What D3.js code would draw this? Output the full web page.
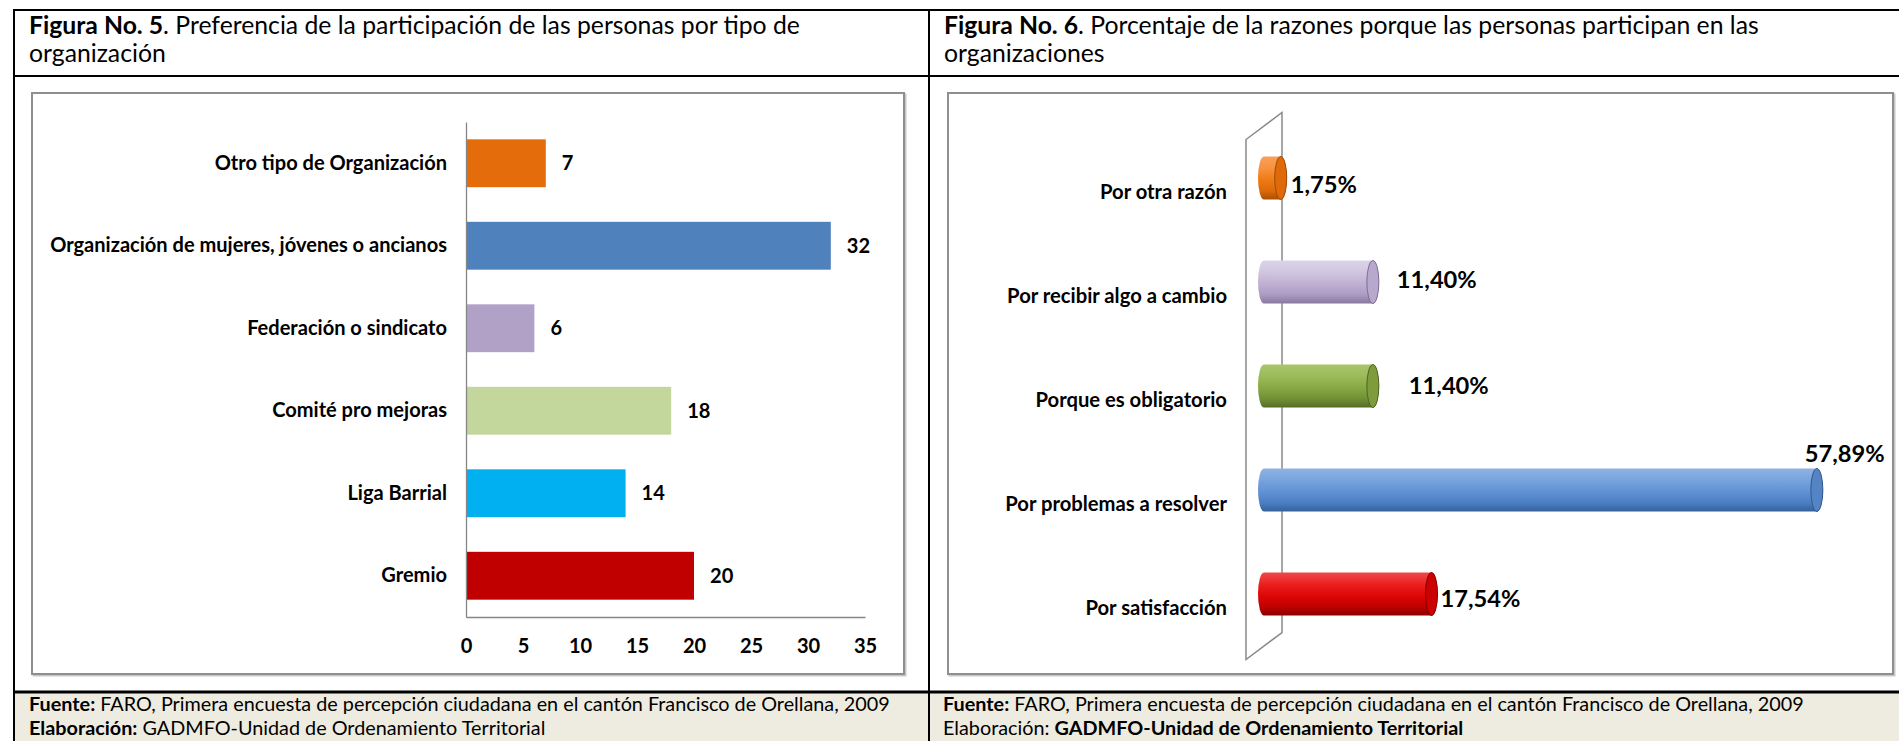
<!DOCTYPE html>
<html><head><meta charset="utf-8">
<script src="https://cdn.jsdelivr.net/npm/d3@7"></script>
<style>
body{margin:0;background:#fff;}
svg{display:block;}
</style>
</head><body>
<svg id="c" width="1899" height="741"></svg>
<script>
// ---------- DATA ----------
const categories5 = ["Otro tipo de Organización", "Organización de mujeres, jóvenes o ancianos", "Federación o sindicato", "Comité pro mejoras", "Liga Barrial", "Gremio"];
const values5 = [7, 32, 6, 18, 14, 20];
const colors5 = ["#E46C0A", "#4F81BD", "#B2A1C7", "#C3D69B", "#00B0F0", "#C00000"];
const ticks5 = [0, 5, 10, 15, 20, 25, 30, 35];

const categories6 = ["Por otra razón", "Por recibir algo a cambio", "Porque es obligatorio", "Por problemas a resolver", "Por satisfacción"];
const values6 = [1.75, 11.40, 11.40, 57.89, 17.54];
const labels6 = ["1,75%", "11,40%", "11,40%", "57,89%", "17,54%"];
const colors6 = ["orange", "purple", "green", "blue", "red"];

const title5 = [["Figura No. 5", 700], [". Preferencia de la participación de las personas por tipo de", 400]];
const title5b = "organización";
const title6 = [["Figura No. 6", 700], [". Porcentaje de la razones porque las personas participan en las", 400]];
const title6b = "organizaciones";
const fuente = [["Fuente:", 700], [" FARO, Primera encuesta de percepción ciudadana en el cantón Francisco de Orellana, 2009", 400]];
const elab5 = [["Elaboración:", 700], [" GADMFO-Unidad de Ordenamiento Territorial", 400]];
const elab6 = [["Elaboración: ", 400], ["GADMFO-Unidad de Ordenamiento Territorial", 700]];

// ---------- HELPERS ----------
const svg = d3.select("#c");
const defs = svg.append("defs");
const SANS = "Lato, 'Open Sans', sans-serif";
const CHART = "Lato, 'Open Sans', sans-serif";

function multiText(g, parts, x, y, size, family) {
  const t = g.append("text").attr("x", x).attr("y", y).attr("font-size", size).attr("font-family", family).attr("fill", "#000");
  parts.forEach(p => t.append("tspan").attr("font-weight", p[1]).text(p[0]));
  return t;
}
function fitSize(parts, family, target) {
  const t = multiText(svg, parts, 0, -100, 20, family);
  const w = t.node().getComputedTextLength();
  t.remove();
  return 20 * target / w;
}

// ---------- TABLE ----------
svg.append("rect").attr("x", 14).attr("y", 692).attr("width", 1885).attr("height", 49).attr("fill", "#EEECE1");
const lines = [
  [13, 10, 1899, 10, 2], [14, 9, 14, 741, 2], [14, 76, 1899, 76, 2],
  [929, 10, 929, 741, 2], [14, 692, 1899, 692, 3]
];
svg.selectAll("line.tbl").data(lines).join("line").attr("class", "tbl")
  .attr("x1", d => d[0]).attr("y1", d => d[1]).attr("x2", d => d[2]).attr("y2", d => d[3])
  .attr("stroke", "#000").attr("stroke-width", d => d[4]);

// chart boxes
[[32, 93, 872, 581], [948, 93, 945, 581]].forEach(b => {
  svg.append("rect").attr("x", b[0] + 1.5).attr("y", b[1] + 1.5).attr("width", b[2]).attr("height", b[3])
    .attr("fill", "none").attr("stroke", "#c8c8c8").attr("stroke-width", 2);
  svg.append("rect").attr("x", b[0]).attr("y", b[1]).attr("width", b[2]).attr("height", b[3])
    .attr("fill", "#fff").attr("stroke", "#8f8f8f").attr("stroke-width", 2);
});

// titles
const tSize = fitSize(title6, SANS, 815);
multiText(svg, title5, 29, 34, tSize, SANS);
multiText(svg, [[title5b, 400]], 29, 62, tSize, SANS);
multiText(svg, title6, 944, 34, tSize, SANS);
multiText(svg, [[title6b, 400]], 944, 62, tSize, SANS);

// footers
const fSize = fitSize(fuente, SANS, 861);
multiText(svg, fuente, 29, 711, fSize, SANS);
multiText(svg, elab5, 29, 735, fSize, SANS);
multiText(svg, fuente, 943, 711, fSize, SANS);
multiText(svg, elab6, 943, 735, fSize, SANS);

// ---------- CHART 5 (flat horizontal bars) ----------
const lblSize5 = fitSize([[categories5[1], 700]], CHART, 397);
const x5 = d3.scaleLinear().domain([0, 35]).range([466, 865]);
const y5 = d3.scaleBand().domain(categories5).range([122, 617]).paddingInner(0.42).paddingOuter(0.21);
const g5 = svg.append("g");

g5.selectAll("rect.bar").data(categories5).join("rect").attr("class", "bar")
  .attr("x", x5(0)).attr("y", d => y5(d))
  .attr("width", (d, i) => x5(values5[i]) - x5(0)).attr("height", y5.bandwidth())
  .attr("fill", (d, i) => colors5[i]);

const ax5 = g5.append("g").attr("transform", `translate(0,617)`)
  .call(d3.axisBottom(x5).tickValues(ticks5).tickSize(0).tickSizeOuter(0).tickPadding(22));
const ay5 = g5.append("g").attr("transform", `translate(466,0)`)
  .call(d3.axisLeft(y5).tickSize(0).tickSizeOuter(0).tickPadding(19));
[ax5, ay5].forEach(a => {
  a.select(".domain").attr("stroke", "#868686").attr("stroke-width", 1.3);
  a.selectAll("text").attr("font-family", CHART).attr("font-weight", 700).attr("font-size", lblSize5).attr("fill", "#000");
});

g5.selectAll("text.val").data(categories5).join("text").attr("class", "val")
  .attr("x", (d, i) => x5(values5[i]) + 16).attr("y", d => y5(d) + y5.bandwidth() / 2).attr("dy", "0.35em")
  .attr("font-family", CHART).attr("font-weight", 700).attr("font-size", lblSize5)
  .text((d, i) => values5[i]);

// ---------- CHART 6 (3D cylinders) ----------
const palette6 = {
  orange: {stops: ["#F9A05A", "#F7913C", "#EE7A14", "#DC6A08", "#A94F04"], cap: "#E06A0A", rim: "#9C4A05"},
  purple: {stops: ["#DCD3E8", "#D0C5E0", "#BFB0D3", "#AC9AC3", "#8A779F"], cap: "#B8A8CC", rim: "#7E6C94"},
  green:  {stops: ["#A9C56E", "#9BBB59", "#86A843", "#728F35", "#566C26"], cap: "#7E9C3D", rim: "#4F6322"},
  blue:   {stops: ["#8DB3E2", "#77A3DD", "#5F91D4", "#4B7EC2", "#36609A"], cap: "#5584C4", rim: "#31578E"},
  red:    {stops: ["#F04848", "#EC1E1E", "#DC0606", "#C00000", "#8A0000"], cap: "#CC0202", rim: "#7E0000"}
};
Object.entries(palette6).forEach(([k, p]) => {
  const lg = defs.append("linearGradient").attr("id", "g6-" + k).attr("x1", 0).attr("y1", 0).attr("x2", 0).attr("y2", 1);
  [0, 0.28, 0.55, 0.8, 1].forEach((o, i) => lg.append("stop").attr("offset", o).attr("stop-color", p.stops[i]));
});

const lblSize6 = fitSize([[categories6[1], 700]], CHART, 220);
const pctSize6 = fitSize([[labels6[3], 700]], CHART, 80);
const x6 = d3.scaleLinear().domain([0, 60]).range([1264, 1837]);
const y6 = d3.scaleBand().domain(categories6).range([126, 646]).paddingInner(0.587).paddingOuter(0.2935);
const dX = 18, dY = 13.5, rx = 6;
const g6 = svg.append("g");

// side wall (depth parallelogram)
const x0 = x6(0), yt = y6.range()[0], yb = y6.range()[1];
g6.append("path")
  .attr("d", `M${x0 - dX},${yt + dY}L${x0 - dX},${yb + dY}L${x0 + dX},${yb - dY}L${x0 + dX},${yt - dY}Z`)
  .attr("fill", "none").attr("stroke", "#8a8a8a").attr("stroke-width", 1.5);

// category labels on the front plane
g6.selectAll("text.cat").data(categories6).join("text").attr("class", "cat")
  .attr("x", x0 - dX - 19).attr("y", d => y6(d) + y6.bandwidth() / 2 + dY).attr("dy", "0.35em")
  .attr("text-anchor", "end").attr("font-family", CHART).attr("font-weight", 700).attr("font-size", lblSize6)
  .text(d => d);

// cylinders
const bars6 = g6.selectAll("g.cyl").data(categories6).join("g").attr("class", "cyl");
bars6.append("path")
  .attr("d", (d, i) => {
    const a = x6(0), b = x6(values6[i]), t = y6(d), h = y6.bandwidth(), ry = h / 2;
    return `M${a},${t}L${b},${t}A${rx},${ry} 0 0 1 ${b},${t + h}L${a},${t + h}A${rx},${ry} 0 0 1 ${a},${t}Z`;
  })
  .attr("fill", (d, i) => `url(#g6-${colors6[i]})`);
bars6.append("ellipse")
  .attr("cx", (d, i) => x6(values6[i])).attr("cy", d => y6(d) + y6.bandwidth() / 2)
  .attr("rx", rx).attr("ry", y6.bandwidth() / 2)
  .attr("fill", (d, i) => palette6[colors6[i]].cap)
  .attr("stroke", (d, i) => palette6[colors6[i]].rim).attr("stroke-width", 1);

// value labels (positions as placed in the original chart)
const labelNudge6 = [[4, 7], [18, -2], [30, 0], [-18, -36], [3, 5]];
g6.selectAll("text.pct").data(categories6).join("text").attr("class", "pct")
  .attr("x", (d, i) => x6(values6[i]) + rx + labelNudge6[i][0])
  .attr("y", (d, i) => y6(d) + y6.bandwidth() / 2 + labelNudge6[i][1]).attr("dy", "0.35em")
  .attr("font-family", CHART).attr("font-weight", 700).attr("font-size", pctSize6)
  .text((d, i) => labels6[i]);
</script>
</body></html>
